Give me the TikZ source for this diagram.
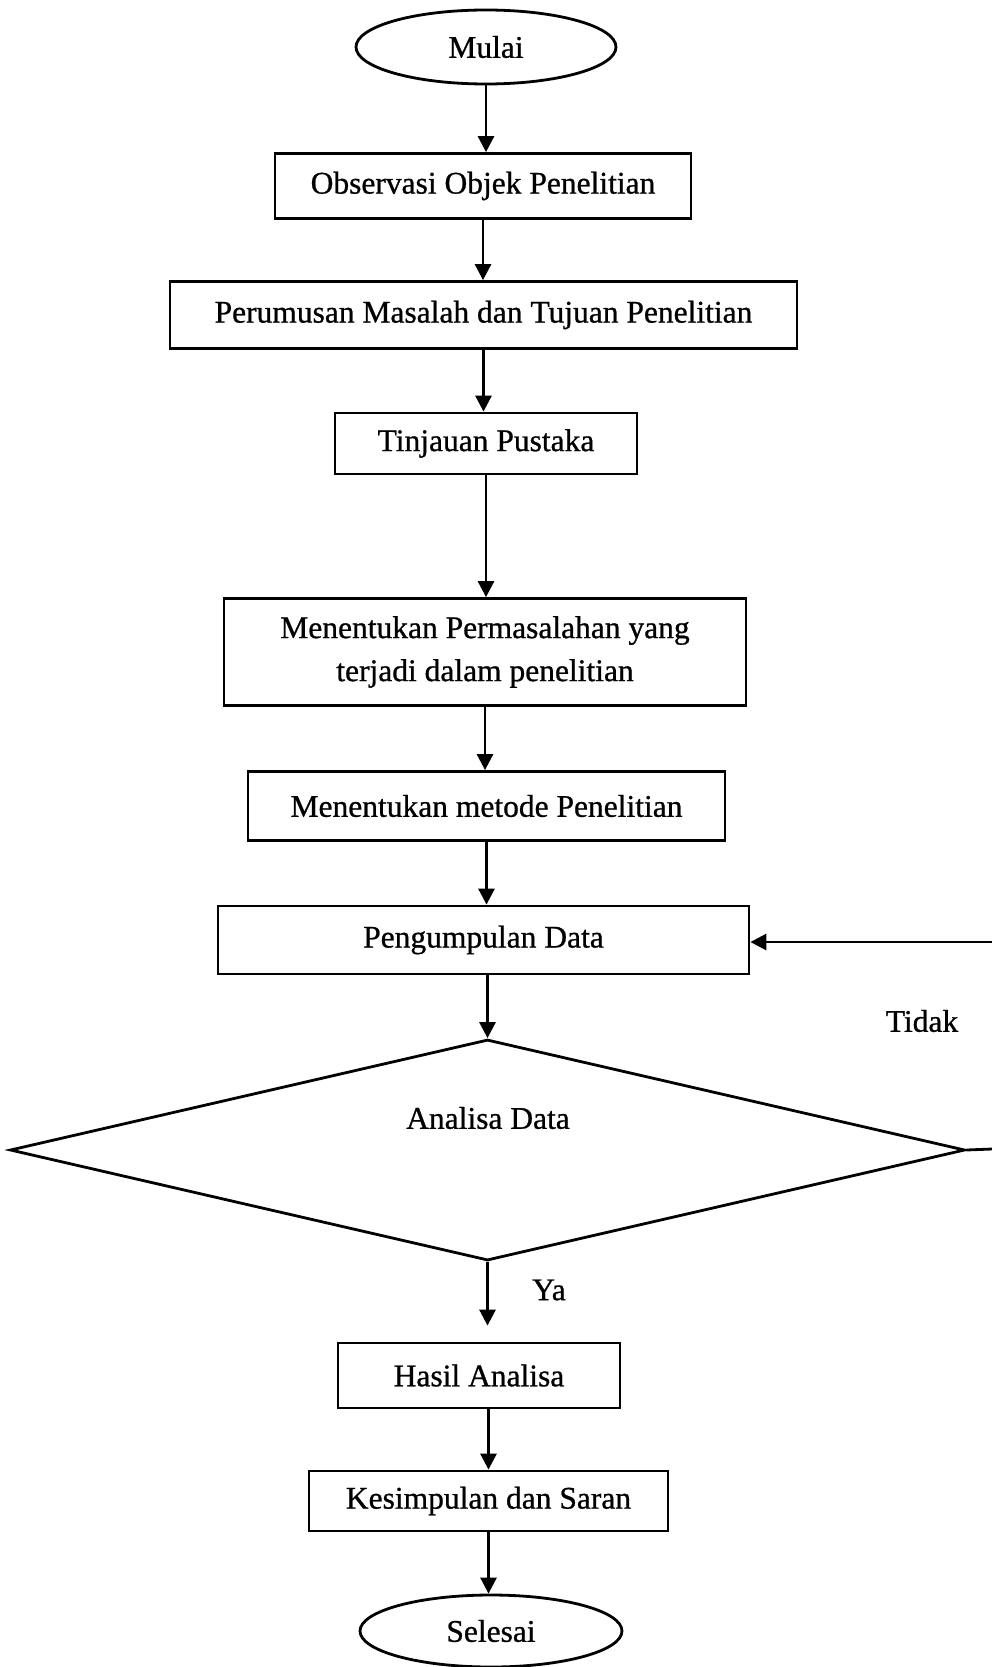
\documentclass[tikz,border=0pt]{standalone}
\usepackage{fontspec}
\setmainfont{Liberation Serif}
\newfontfamily\scanfont{Liberation Serif}[FakeBold=0.8]
\usetikzlibrary{shapes.geometric,arrows.meta}
\begin{document}
\begin{tikzpicture}[x=1pt,y=-1pt,
  txt/.style={font=\scanfont\fontsize{31.5}{43}\selectfont},
  box/.style={txt,draw,line width=2.8pt,inner sep=0pt,align=center,rectangle},
  term/.style={txt,draw,line width=2.8pt,inner sep=0pt,ellipse},
  arr/.style={line width=2.8pt,-{Triangle[length=16pt,width=16pt]}},
  ln/.style={line width=2.8pt}]
\useasboundingbox (0,0) rectangle (992,1667);
\node[term,minimum width=260pt,minimum height=74pt] (mulai) at (486,47) {Mulai};
\node[box,minimum width=416pt,minimum height=65pt] (obs) at (483,186) {Observasi Objek Penelitian};
\node[box,minimum width=627pt,minimum height=67pt] (perum) at (483.5,315) {Perumusan Masalah dan Tujuan Penelitian};
\node[box,minimum width=302pt,minimum height=61pt] (tinj) at (486,443.5) {Tinjauan Pustaka};
\node[box,minimum width=522pt,minimum height=107pt] (masal) at (485,652) {Menentukan Permasalahan yang\\terjadi dalam penelitian};
\node[box,minimum width=477pt,minimum height=69pt] (metode) at (486.5,806) {Menentukan metode Penelitian};
\node[box,minimum width=531pt,minimum height=68pt] (kumpul) at (483.5,940) {Pengumpulan Data};
\node[draw,line width=2.8pt,diamond,minimum width=955pt,minimum height=221pt,inner sep=0pt] (dia) at (487.5,1150) {};
\node[txt] (analisa) at (488,1118) {Analisa Data};
\node[txt] (tidak) at (922,1021) {Tidak};
\node[txt] (ya) at (549,1290) {Ya};
\node[box,minimum width=282pt,minimum height=65pt] (hasil) at (479,1375.5) {Hasil Analisa};
\node[box,minimum width=359pt,minimum height=60pt] (kesim) at (488.5,1501) {Kesimpulan dan Saran};
\node[term,minimum width=262pt,minimum height=72pt] (selesai) at (491,1631) {Selesai};
\coordinate (r1) at (992,1149);
\coordinate (r2) at (992,942);
\draw[arr] (mulai.south) -- (mulai.south |- obs.north);
\draw[arr] (obs.south) -- (obs.south |- perum.north);
\draw[arr] (perum.south) -- (perum.south |- tinj.north);
\draw[arr] (tinj.south) -- (tinj.south |- masal.north);
\draw[arr] (masal.south) -- (masal.south |- metode.north);
\draw[arr] (metode.south) -- (metode.south |- kumpul.north);
\draw[arr] (kumpul.south -| dia.north) -- (dia.north);
\draw[arr] (dia.south) -- ([yshift=16pt]dia.south |- hasil.north);
\draw[arr] (hasil.south -| kesim.north) -- (kesim.north);
\draw[arr] (kesim.south) -- (kesim.south |- selesai.north);
\draw[ln] (dia.east) -- (r1);
\draw[arr] (r2) -- (r2 -| kumpul.east);
\end{tikzpicture}
\end{document}
